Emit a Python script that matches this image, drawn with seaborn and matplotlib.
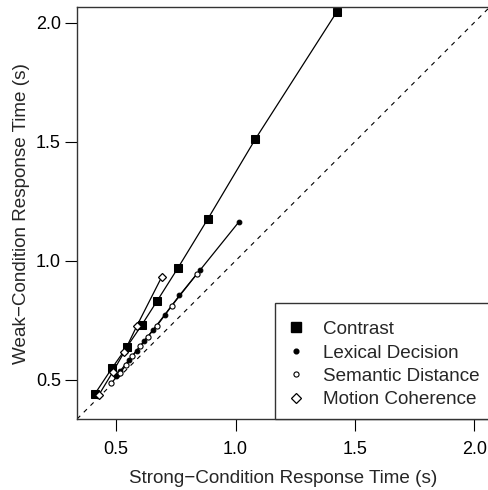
import numpy as np
import pandas as pd
import matplotlib
matplotlib.use("Agg")
import matplotlib.pyplot as plt
from matplotlib.lines import Line2D
from matplotlib.patches import Rectangle
import seaborn as sns

# strong vs weak condition response times (s)
contrast_strong = [0.411, 0.482, 0.545, 0.606, 0.671, 0.758, 0.884, 1.083, 1.425]
contrast_weak = [0.442, 0.549, 0.639, 0.729, 0.831, 0.969, 1.176, 1.511, 2.046]

lexical_strong = [0.500, 0.517, 0.552, 0.585, 0.616, 0.655, 0.703, 0.765, 0.853, 1.013]
lexical_weak = [0.515, 0.538, 0.582, 0.621, 0.662, 0.711, 0.773, 0.855, 0.963, 1.162]

semantic_strong = [0.479, 0.514, 0.541, 0.567, 0.601, 0.631, 0.671, 0.732, 0.838]
semantic_weak = [0.486, 0.527, 0.562, 0.601, 0.642, 0.680, 0.728, 0.810, 0.945]

motion_strong = [0.426, 0.486, 0.534, 0.587, 0.690]
motion_weak = [0.435, 0.534, 0.618, 0.728, 0.931]

series_names = ["Contrast", "Lexical Decision", "Semantic Distance", "Motion Coherence"]
ticks = [0.5, 1.0, 1.5, 2.0]
lims = (0.336, 2.064)

sns.set_style("ticks")
plt.rcParams["font.family"] = ["Liberation Sans", "DejaVu Sans"]
FS = 13.6

fig = plt.figure(figsize=(4.88, 4.90), dpi=100)
ax = fig.add_axes([0.158, 0.145, 1.003 - 0.158, 0.985 - 0.145])

# identity line
ax.plot(lims, lims, ls=(0, (4, 4.5)), color="black", lw=0.8)

marker_styles = {
    "Contrast": dict(marker="s", markersize=5.5, markerfacecolor="black", markeredgecolor="black"),
    "Lexical Decision": dict(marker="o", markersize=3.4, markerfacecolor="black", markeredgecolor="black"),
    "Semantic Distance": dict(marker="o", markersize=3.7, markerfacecolor="white", markeredgecolor="black", markeredgewidth=0.8),
    "Motion Coherence": dict(marker="D", markersize=4.4, markerfacecolor="white", markeredgecolor="black", markeredgewidth=0.9),
}
data = {
    "Contrast": (contrast_strong, contrast_weak),
    "Lexical Decision": (lexical_strong, lexical_weak),
    "Semantic Distance": (semantic_strong, semantic_weak),
    "Motion Coherence": (motion_strong, motion_weak),
}

for name in series_names:
    xs, ys = data[name]
    df = pd.DataFrame({"strong": xs, "weak": ys})
    sns.lineplot(data=df, x="strong", y="weak", ax=ax, color="black", lw=0.9,
                 sort=False, estimator=None, legend=False, **marker_styles[name])

ax.set_xlim(lims)
ax.set_ylim(lims)
ax.set_xticks(ticks)
ax.set_yticks(ticks)
ax.set_xticklabels([f"{t:.1f}" for t in ticks])
ax.set_yticklabels([f"{t:.1f}" for t in ticks])
ax.tick_params(axis="both", direction="out", length=8.6, width=0.8, colors="black", labelsize=13)
ax.tick_params(axis="x", pad=7)
ax.tick_params(axis="y", pad=3)
for s in ax.spines.values():
    s.set_visible(True)
    s.set_color("#333333")
    s.set_linewidth(1.0)

ax.set_xlabel("Strong\u2212Condition Response Time (s)", fontsize=FS, labelpad=9)
ax.set_ylabel("Weak\u2212Condition Response Time (s)", fontsize=FS, labelpad=4)

# legend box, flush with the lower right corner
ax.add_patch(Rectangle((0.481, 0.0), 0.53, 0.282, transform=ax.transAxes,
                       facecolor="white", edgecolor="#333333", lw=1.0, zorder=4,
                       clip_on=False))
handles = []
leg_sizes = {"Contrast": 6.5, "Lexical Decision": 3.4, "Semantic Distance": 3.7, "Motion Coherence": 5.6}
for name in series_names:
    st = dict(marker_styles[name])
    st["markersize"] = leg_sizes[name]
    handles.append(Line2D([], [], ls="none", **st))
leg = ax.legend(handles, series_names, loc="center left", bbox_to_anchor=(0.507, 0.132),
                borderaxespad=0, borderpad=0, frameon=False, fontsize=FS,
                handlelength=1.0, handletextpad=0.93, labelspacing=0.33)
leg.set_zorder(5)

fig.savefig("out.png", dpi=100)
